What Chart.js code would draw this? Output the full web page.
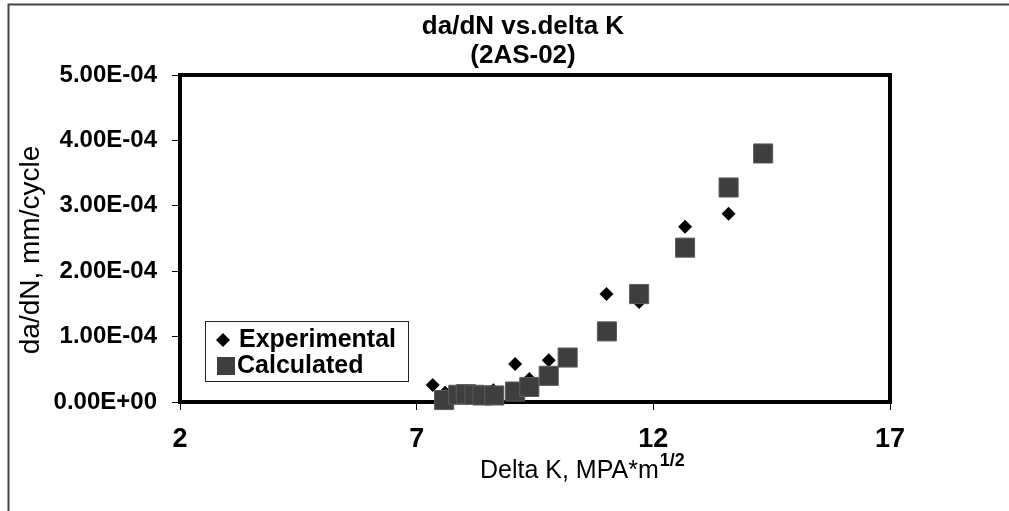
<!DOCTYPE html>
<html>
<head>
<meta charset="utf-8">
<script src="https://cdn.jsdelivr.net/npm/chart.js@4.4.1/dist/chart.umd.min.js"></script>
<style>
  html, body { margin: 0; padding: 0; background: #fff; }
  #grafico { display: block; }
</style>
</head>
<body>
<canvas id="grafico" width="1009" height="511"></canvas>
<script>
// valores
const expDeltaK = [7.34, 7.60, 8.62, 9.08, 9.38, 9.79, 11.01, 11.70, 12.67, 13.59];
const expDadn = [2.6e-5, 1.4e-5, 1.8e-5, 5.8e-5, 3.5e-5, 6.4e-5, 1.65e-4, 1.53e-4, 2.68e-4, 2.88e-4];

const calcDeltaK = [7.58, 7.88, 8.04, 8.22, 8.39, 8.64, 9.08, 9.38, 9.79, 10.19, 11.02, 11.70, 12.67, 13.59, 14.32];
const calcDadn = [3e-6, 1.1e-5, 1.2e-5, 1.1e-5, 1.0e-5, 1.0e-5, 1.6e-5, 2.3e-5, 4.0e-5, 6.8e-5, 1.08e-4, 1.65e-4, 2.36e-4, 3.28e-4, 3.80e-4];

const xTicks = [2, 7, 12, 17];
const yTicks = [0, 1e-4, 2e-4, 3e-4, 4e-4, 5e-4];

const titulo = ['da/dN vs.delta K', '(2AS-02)'];
const nombresSeries = ['Experimental', 'Calculated'];

function formatoCientifico(v) {
    if (Math.abs(v) < 1e-12) return '0.00E+00';
    let e = Math.floor(Math.log10(Math.abs(v)) + 1e-9);
    let m = v / Math.pow(10, e);
    return m.toFixed(2) + 'E' + (e < 0 ? '-' : '+') + String(Math.abs(e)).padStart(2, '0');
}

function puntos(xs, ys) {
    return xs.map((x, i) => ({ x: x, y: ys[i] }));
}

const COLOR_CUADRO = '#3e3e3e';
const FUENTE = '"Liberation Sans", Arial, sans-serif';

const decoracion = {
    id: 'decoracion',
    beforeDraw(chart) {
        const ctx = chart.ctx;
        ctx.save();
        ctx.fillStyle = '#fff';
        ctx.fillRect(0, 0, chart.width, chart.height);
        // marco exterior
        ctx.strokeStyle = '#444';
        ctx.lineWidth = 2;
        ctx.beginPath();
        ctx.moveTo(8.5, chart.height + 5);
        ctx.lineTo(8.5, 4.5);
        ctx.lineTo(chart.width + 5, 4.5);
        ctx.stroke();
        ctx.restore();
    },
    beforeDatasetsDraw(chart) {
        const a = chart.chartArea;
        const ctx = chart.ctx;
        ctx.save();
        ctx.strokeStyle = '#000';
        ctx.lineWidth = 4;
        ctx.strokeRect(a.left, a.top, a.right - a.left, a.bottom - a.top);
        ctx.restore();
    },
    afterDraw(chart) {
        const ctx = chart.ctx;
        ctx.save();
        ctx.fillStyle = '#000';
        ctx.textAlign = 'center';
        ctx.textBaseline = 'middle';
        // titulo
        ctx.font = 'bold 26px ' + FUENTE;
        ctx.fillText(titulo[0], 523, 27);
        ctx.fillText(titulo[1], 523, 56);

        // titulo eje y
        ctx.save();
        ctx.translate(31, 250);
        ctx.rotate(-Math.PI / 2);
        ctx.font = '28px ' + FUENTE;
        ctx.fillText('da/dN, mm/cycle', 0, 0);
        ctx.restore();

        // titulo eje x con superindice
        ctx.textAlign = 'left';
        ctx.textBaseline = 'alphabetic';
        ctx.font = '25px ' + FUENTE;
        const base = 'Delta K, MPA*m';
        ctx.fillText(base, 480, 478);
        const w = ctx.measureText(base).width;
        ctx.font = 'bold 18px ' + FUENTE;
        ctx.fillText('1/2', 480 + w + 1, 466);

        // leyenda
        ctx.lineWidth = 1;
        ctx.strokeStyle = '#222';
        ctx.strokeRect(205.5, 321.5, 203, 60);
        ctx.fillStyle = '#000';
        ctx.beginPath();
        ctx.moveTo(223, 333);
        ctx.lineTo(230, 340);
        ctx.lineTo(223, 347);
        ctx.lineTo(216, 340);
        ctx.closePath();
        ctx.fill();
        ctx.fillStyle = COLOR_CUADRO;
        ctx.fillRect(217, 357, 18, 18);
        ctx.fillStyle = '#000';
        ctx.font = 'bold 25px ' + FUENTE;
        ctx.textBaseline = 'middle';
        ctx.fillText(nombresSeries[0], 239, 340);
        ctx.fillText(nombresSeries[1], 237, 366);
        ctx.restore();
    }
};

const ctx = document.getElementById('grafico').getContext('2d');
const grafico = new Chart(ctx, {
    type: 'scatter',
    data: {
        datasets: [{
            label: nombresSeries[0],
            data: puntos(expDeltaK, expDadn),
            pointStyle: 'rectRot',
            pointRadius: 7,
            backgroundColor: '#000',
            borderColor: '#000',
            borderWidth: 0,
            order: 2,
            clip: false
        }, {
            label: nombresSeries[1],
            data: puntos(calcDeltaK, calcDadn),
            pointStyle: 'rect',
            pointRadius: 13.5,
            backgroundColor: COLOR_CUADRO,
            borderColor: '#5c5c5c',
            borderWidth: 1,
            order: 1,
            clip: false
        }]
    },
    options: {
        responsive: false,
        animation: false,
        layout: { padding: { top: 75, right: 119, left: 0, bottom: 0 } },
        plugins: { legend: { display: false }, tooltip: { enabled: false }, title: { display: false } },
        scales: {
            x: {
                type: 'linear',
                min: 2, max: 17,
                afterFit: s => { s.height = 109; },
                afterBuildTicks: s => { s.ticks = xTicks.map(v => ({ value: v })); },
                border: { display: false },
                grid: { drawOnChartArea: false, drawTicks: true, tickLength: 8, color: '#000', lineWidth: 1 },
                ticks: {
                    color: '#000',
                    padding: 13,
                    maxRotation: 0,
                    font: { family: FUENTE, size: 27, weight: 'bold' }
                }
            },
            y: {
                type: 'linear',
                min: 0, max: 5e-4,
                afterFit: s => { s.width = 180; },
                afterBuildTicks: s => { s.ticks = yTicks.map(v => ({ value: v })); },
                border: { display: false },
                grid: { drawOnChartArea: false, drawTicks: true, tickLength: 8, color: '#000', lineWidth: 1 },
                ticks: {
                    color: '#000',
                    padding: 15,
                    callback: v => formatoCientifico(v),
                    font: { family: FUENTE, size: 24, weight: 'bold' }
                }
            }
        }
    },
    plugins: [decoracion]
});
</script>
</body>
</html>
